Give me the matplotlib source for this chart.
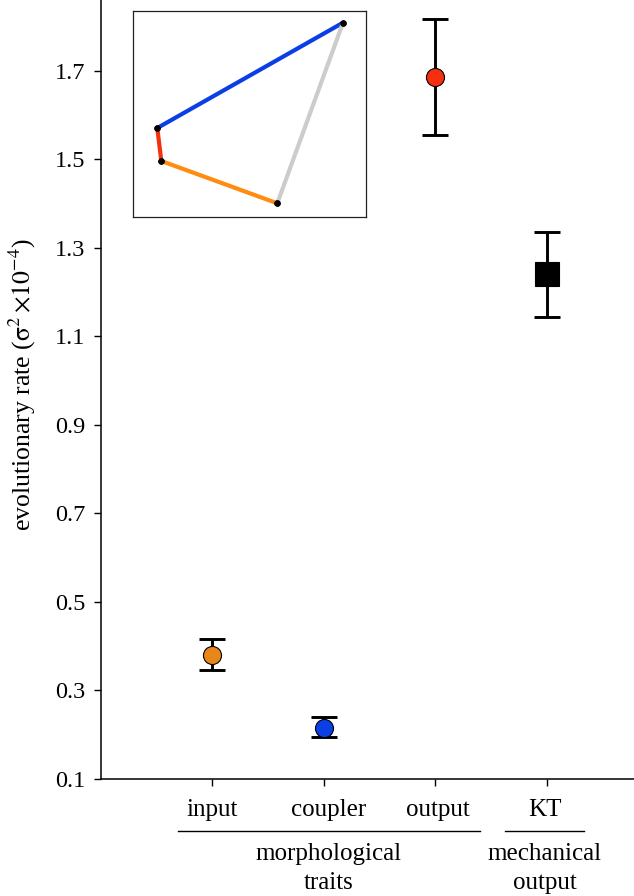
#!/usr/bin/env python3
import matplotlib
matplotlib.use("Agg")
import matplotlib.pyplot as plt
from matplotlib.lines import Line2D
from matplotlib.transforms import ScaledTranslation

plt.rcParams['font.family'] = ['Liberation Serif', 'DejaVu Serif']
plt.rcParams['mathtext.fontset'] = 'stix'

traits = ["input", "coupler", "output", "KT"]
rates = [0.379, 0.214, 1.686, 1.241]
rates_upper = [0.415, 0.239, 1.818, 1.336]
rates_lower = [0.345, 0.194, 1.555, 1.144]
trait_colors = ["#e8861a", "#0b3fe6", "#f5300f", "#000000"]
trait_markers = ["o", "o", "o", "s"]
trait_sizes = [13, 13, 13, 17.5]
y_ticks = [0.1, 0.3, 0.5, 0.7, 0.9, 1.1, 1.3, 1.5, 1.7]

# linkage outline, inset coordinates
link_x = [[24.3, 210], [24.3, 28.3], [28.3, 144.3], [144.3, 210]]
link_y = [[89, 194.3], [89, 56], [56, 13.7], [13.7, 194.3]]
link_colors = ["#0b3fe6", "#f5300f", "#ff8c10", "#cccccc"]

W, H = 634, 896

fig = plt.figure(figsize=(W / 100, H / 100), dpi=100)
ax = fig.add_axes([101 / W, (H - 778.5) / H, (W - 101) / W, 778.5 / H])

for i in range(len(traits)):
    err = [[rates[i] - rates_lower[i]], [rates_upper[i] - rates[i]]]
    ax.errorbar(i + 1, rates[i], yerr=err, color="black", elinewidth=2.1,
                capsize=9.7, capthick=2.1, zorder=2)
    ax.plot(i + 1, rates[i], trait_markers[i], color=trait_colors[i],
            markersize=trait_sizes[i], markeredgecolor="black",
            markeredgewidth=0.8, zorder=3)

ax.set_xlim(0.006, 4.78)
ax.set_ylim(0.1, 1.86)
ax.set_xticks(range(1, 5))
ax.set_xticklabels(traits)
ax.set_yticks(y_ticks)
ax.set_yticklabels([f"{t:.1f}" for t in y_ticks])
ax.tick_params(axis="y", length=5, width=1, labelsize=17.5, pad=6)
ax.tick_params(axis="x", length=5, width=1, labelsize=18, pad=10)
ax.spines["top"].set_visible(False)
ax.spines["right"].set_visible(False)
for side in ["left", "bottom"]:
    ax.spines[side].set_linewidth(1.1)

# tick labels sit a little off their ticks in the original
label_shift = [0, 5, 3, -2]
for lab, dx in zip(ax.get_xticklabels(), label_shift):
    lab.set_transform(lab.get_transform() + ScaledTranslation(dx / 100, 0, fig.dpi_scale_trans))

fig.text(22 / W, 1 - 385 / H, r"evolutionary rate ($\mathrm{\sigma}^{2}\,{\times}10^{-4}$)",
         rotation=90, ha="center", va="center", fontsize=18.5)

fig.add_artist(Line2D([178 / W, 480 / W], [1 - 831 / H] * 2, color="black", lw=1))
fig.add_artist(Line2D([505 / W, 584 / W], [1 - 831 / H] * 2, color="black", lw=1))
fig.text(329 / W, 1 - 860 / H, "morphological", ha="center", va="baseline", fontsize=18)
fig.text(329 / W, 1 - 889 / H, "traits", ha="center", va="baseline", fontsize=18)
fig.text(545 / W, 1 - 860 / H, "mechanical", ha="center", va="baseline", fontsize=18)
fig.text(545 / W, 1 - 889 / H, "output", ha="center", va="baseline", fontsize=18)

inset = fig.add_axes([133 / W, (H - 217) / H, 233 / W, 206 / H])
for xs, ys, c in zip(link_x, link_y, link_colors):
    inset.plot(xs, ys, color=c, lw=3, solid_capstyle="butt", zorder=2)
for xs, ys in zip(link_x, link_y):
    inset.plot(xs, ys, "o", color="black", markersize=3.6, linestyle="none", zorder=3)
inset.set_xlim(0, 233)
inset.set_ylim(0, 206)
inset.set_xticks([])
inset.set_yticks([])
for s in inset.spines.values():
    s.set_linewidth(0.9)
    s.set_color("#222222")

fig.savefig("out.png", dpi=100)
